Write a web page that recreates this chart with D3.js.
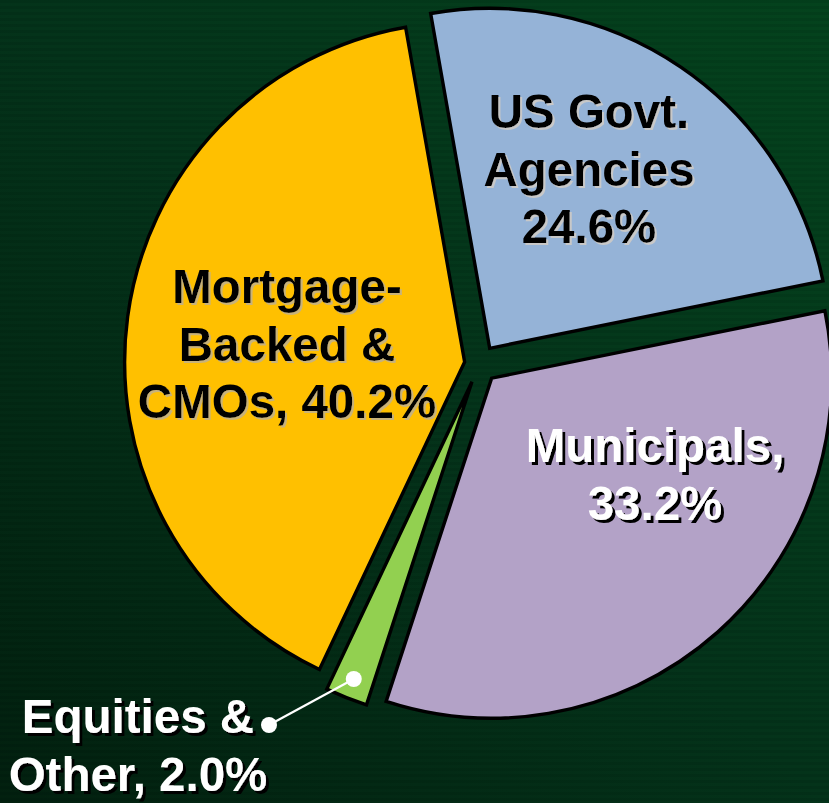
<!DOCTYPE html>
<html>
<head>
<meta charset="utf-8">
<script src="https://cdn.jsdelivr.net/npm/d3@7"></script>
<style>
  html, body { margin: 0; padding: 0; background: #04301a; }
  svg { display: block; }
</style>
</head>
<body>
<script>
// ---- data ----
const categories = ["US Govt. Agencies", "Municipals", "Equities & Other", "Mortgage-Backed & CMOs"];
const values = [24.6, 33.2, 2.0, 40.2];
const labelLines = [
  ["US Govt.", "Agencies", "24.6%"],
  ["Municipals,", "33.2%"],
  ["Equities &", "Other, 2.0%"],
  ["Mortgage-", "Backed &", "CMOs, 40.2%"]
];
const colors = ["#95B3D7", "#B3A2C7", "#92D050", "#FFC000"];

// ---- layout ----
const W = 829, H = 803;
const cx = 479, cy = 364, R = 340;
const explode = [19, 19, 19, 14.5];
const startDeg = -10;
const labelStyle = [
  { x: 589, y: 128, fill: "#000", shadow: "#c8c8c8", d: 2 },
  { x: 655, y: 462, fill: "#fff", shadow: "#000", d: 3 },
  { x: 138, y: 733, fill: "#fff", shadow: "#000", d: 3 },
  { x: 287, y: 303, fill: "#000", shadow: "#c8b27a", d: 2 }
];
const lineH = 57.5;

const svg = d3.select("body").append("svg").attr("width", W).attr("height", H);
const defs = svg.append("defs");
const grad = defs.append("linearGradient").attr("id", "bg")
  .attr("x1", "100%").attr("y1", "0%").attr("x2", "0%").attr("y2", "100%");
grad.append("stop").attr("offset", "0%").attr("stop-color", "#04431d");
grad.append("stop").attr("offset", "50%").attr("stop-color", "#04331a");
grad.append("stop").attr("offset", "100%").attr("stop-color", "#02200f");
svg.append("rect").attr("width", W).attr("height", H).attr("fill", "url(#bg)");

labelStyle.forEach((s, i) => {
  const f = defs.append("filter").attr("id", "sh" + i)
    .attr("x", "-10%").attr("y", "-20%").attr("width", "130%").attr("height", "150%");
  f.append("feDropShadow").attr("dx", s.d).attr("dy", s.d).attr("stdDeviation", 0.4)
    .attr("flood-color", s.shadow).attr("flood-opacity", 1);
});

// subtle horizontal stripes
const stripes = svg.append("g").attr("opacity", 0.06);
d3.range(0, H, 6).forEach(y => {
  stripes.append("rect").attr("x", 0).attr("y", y).attr("width", W).attr("height", 3).attr("fill", "#000");
});

const pie = d3.pie().sort(null).value(d => d)
  .startAngle(startDeg * Math.PI / 180)
  .endAngle(startDeg * Math.PI / 180 + 2 * Math.PI);
const arcs = pie(values);
const arc = d3.arc().innerRadius(0).outerRadius(R);

const g = svg.append("g").attr("transform", `translate(${cx},${cy})`);
arcs.forEach((a, i) => {
  const mid = (a.startAngle + a.endAngle) / 2;
  const ox = Math.sin(mid) * explode[i], oy = -Math.cos(mid) * explode[i];
  a.ox = ox; a.oy = oy; a.mid = mid;
  g.append("path")
    .attr("d", arc(a))
    .attr("transform", `translate(${ox},${oy})`)
    .attr("fill", colors[i])
    .attr("stroke", "#000")
    .attr("stroke-width", 3.4)
    .attr("stroke-linejoin", "miter");
});

// leader for small slice
const eq = arcs[2];
const lr = 320;
const p1 = [cx + eq.ox + Math.sin(eq.mid) * lr, cy + eq.oy - Math.cos(eq.mid) * lr];
const p2 = [269, 725];
svg.append("line").attr("x1", p1[0]).attr("y1", p1[1]).attr("x2", p2[0]).attr("y2", p2[1])
  .attr("stroke", "#fff").attr("stroke-width", 2.2);
[p1, p2].forEach(p => svg.append("circle").attr("cx", p[0]).attr("cy", p[1]).attr("r", 8).attr("fill", "#fff"));

// labels
labelLines.forEach((lines, i) => {
  const s = labelStyle[i];
  const lg = svg.append("g")
    .attr("font-family", "'Liberation Sans', Arial, sans-serif")
    .attr("font-weight", "bold")
    .attr("font-size", 47.5)
    .attr("text-anchor", "middle")
    .attr("filter", `url(#sh${i})`);
  lines.forEach((t, k) => {
    lg.append("text")
      .attr("x", s.x)
      .attr("y", s.y + k * lineH)
      .attr("fill", s.fill)
      .text(t);
  });
});
</script>
</body>
</html>
